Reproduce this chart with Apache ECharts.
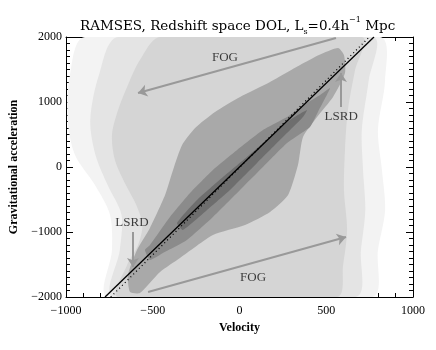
<!DOCTYPE html>
<html>
<head>
<meta charset="utf-8">
<script src="https://cdn.jsdelivr.net/npm/echarts@6/dist/echarts.min.js"></script>
<style>
	html, body { margin: 0; padding: 0; background: #fff; }
	#main { width: 436px; height: 350px; }
</style>
</head>
<body>
<div id="main"></div>
<script>
	// density contours, each point is [velocity, acceleration]
	var outerLevel = [[-891, 2000], [810, 2000], [839, 1338], [798, 569], [821, -46], [839, -662], [798, -1277], [764, -2000],
		[-758, -2000], [-735, -1277], [-746, -738], [-833, -277], [-948, 185], [-990, 723], [-977, 1415]]
	var haloLevel = [[-700, 2000], [770, 2000], [745, 1338], [705, 569], [712, -46], [725, -662], [700, -1277], [670, -2000],
		[-728, -2000], [-690, -1277], [-680, -738], [-760, -277], [-830, 185], [-860, 723], [-810, 1415]]
	var lightLevel = [[-458, 2000], [706, 2000], [666, 1492], [625, 877], [608, 262], [602, -354], [620, -969], [597, -1508], [562, -2000],
		[-700, -2000], [-648, -1508], [-585, -1200], [-560, -892], [-595, -585], [-655, -277], [-718, 108], [-735, 492],
		[-700, 877], [-643, 1262], [-574, 1646]]
	var midLevel = [[568, 1831], [458, 1723], [349, 1569], [176, 1308], [3, 1077], [-141, 846], [-256, 600], [-331, 338],
		[-383, -46], [-429, -431], [-516, -938], [-591, -1277], [-643, -1662], [-631, -1923], [-574, -1938], [-458, -1615],
		[-343, -1400], [-153, -1046], [32, -892], [176, -692], [280, -431], [337, 31], [366, 462], [447, 769], [539, 1077],
		[608, 1446], [602, 1723]]
	var darkLevel = [[-545, -1277], [-516, -1200], [-401, -769], [-285, -400], [-153, -46], [-14, 262], [135, 569], [274, 769],
		[389, 985], [464, 1108], [522, 1215], [452, 846], [406, 615], [274, 369], [135, 0], [3, -354], [-153, -769],
		[-303, -1123], [-441, -1323], [-516, -1431]]
	var coreLevel = [[-360, -862], [-245, -508], [-95, -154], [43, 154], [176, 462], [291, 723], [389, 877], [366, 769],
		[233, 415], [101, 62], [-55, -354], [-187, -662], [-326, -969]]
	var levelColors = ['#f3f3f3', '#e4e4e4', '#d5d5d5', '#a9a9a9', '#8b8b8b', '#6e6e6e']

	// fits
	var solidFit = [[-775, -2000], [775, 2000]]
	var dottedFit = [[-742, -2000], [748, 2000]]

	// annotations
	var arrowLines = [
		[[556, 1985], [-585, 1138]],
		[[-527, -1923], [614, -1077]],
		[[585, 923], [585, 1446]],
		[[-614, -1000], [-614, -1538]]
	]
	var noteNames = ['FOG', 'FOG', 'LSRD', 'LSRD']
	var noteSpots = [[-84, 1677], [78, -1708], [586, 769], [-620, -862]]

	var xTicks = { min: -1000, max: 1000, interval: 500 }
	var yTicks = { min: -2000, max: 2000, interval: 1000 }

	var chart = echarts.init(document.getElementById('main'))

	function polygon(points, color, smooth) {
		return {
			type: 'custom',
			coordinateSystem: 'cartesian2d',
			silent: true,
			clip: true,
			data: points,
			renderItem: function (params, api) {
				if (params.dataIndex !== 0) return null
				return {
					type: 'polygon',
					shape: { points: points.map(function (p) { return api.coord(p) }), smooth: smooth },
					style: { fill: color }
				}
			}
		}
	}

	function minus(v) {
		return String(v).replace('-', '\u2212')
	}

	var tickFont = { fontFamily: 'Liberation Serif', fontSize: 12, color: '#000' }

	function axis(pos, ticks, labels, minor) {
		return {
			type: 'value',
			position: pos,
			min: ticks.min,
			max: ticks.max,
			interval: ticks.interval,
			axisLine: { show: true, onZero: false, lineStyle: { color: '#000', width: 1 } },
			axisTick: { show: true, inside: true, length: 7, lineStyle: { color: '#000' } },
			minorTick: { show: true, splitNumber: minor, length: 4, lineStyle: { color: '#000' } },
			splitLine: { show: false },
			axisLabel: Object.assign({ show: labels, formatter: minus }, tickFont)
		}
	}

	var nameFont = { fontFamily: 'Liberation Serif', fontWeight: 'bold', fontSize: 12, color: '#000' }

	var xBottom = axis('bottom', xTicks, true, 5)
	xBottom.axisLabel.margin = 8
	xBottom.name = 'Velocity'
	xBottom.nameLocation = 'middle'
	xBottom.nameGap = 18
	xBottom.nameTextStyle = nameFont

	var yLeft = axis('left', yTicks, true, 10)
	yLeft.axisLabel.margin = 4
	yLeft.name = 'Gravitational acceleration'
	yLeft.nameLocation = 'middle'
	yLeft.nameGap = 37
	yLeft.nameRotate = 90
	yLeft.nameTextStyle = nameFont

	var series = [
		polygon(outerLevel, levelColors[0], 0.3),
		polygon(haloLevel, levelColors[1], 0.3),
		polygon(lightLevel, levelColors[2], 0.3),
		polygon(midLevel, levelColors[3], 0.2),
		polygon(darkLevel, levelColors[4], 0.15),
		polygon(coreLevel, levelColors[5], 0.15),
		{
			type: 'line',
			data: dottedFit,
			symbol: 'none',
			silent: true,
			lineStyle: { color: '#000', width: 1.3, type: [1, 3] }
		},
		{
			type: 'line',
			data: solidFit,
			symbol: 'none',
			silent: true,
			lineStyle: { color: '#000', width: 1.3 }
		},
		{
			type: 'lines',
			coordinateSystem: 'cartesian2d',
			silent: true,
			symbol: ['none', 'arrow'],
			symbolSize: 9,
			lineStyle: { color: '#999999', width: 2, opacity: 1 },
			data: arrowLines.map(function (c) { return { coords: c } })
		},
		{
			type: 'scatter',
			silent: true,
			symbolSize: 0,
			data: noteSpots.map(function (p, i) { return { name: noteNames[i], value: p } }),
			label: {
				show: true,
				position: 'inside',
				formatter: '{b}',
				fontFamily: 'Liberation Serif',
				fontSize: 13,
				color: '#111'
			}
		}
	]

	chart.setOption({
		animation: false,
		backgroundColor: '#fff',
		title: {
			text: 'RAMSES, Redshift space DOL, L{sub|s}=0.4h{sup|\u22121} Mpc',
			left: 80,
			top: 16,
			padding: 0,
			textStyle: {
				fontFamily: 'DejaVu Serif',
				fontSize: 13.5,
				fontWeight: 'normal',
				color: '#000',
				lineHeight: 20,
				rich: {
					sub: { fontFamily: 'DejaVu Serif', fontSize: 8, lineHeight: 8, verticalAlign: 'bottom', color: '#000' },
					sup: { fontFamily: 'DejaVu Serif', fontSize: 8, lineHeight: 8, verticalAlign: 'top', color: '#000' }
				}
			}
		},
		grid: { left: 66, right: 23, top: 37, bottom: 53 },
		xAxis: [xBottom, axis('top', xTicks, false, 5)],
		yAxis: [yLeft, axis('right', yTicks, false, 10)],
		series: series
	})
</script>
</body>
</html>
